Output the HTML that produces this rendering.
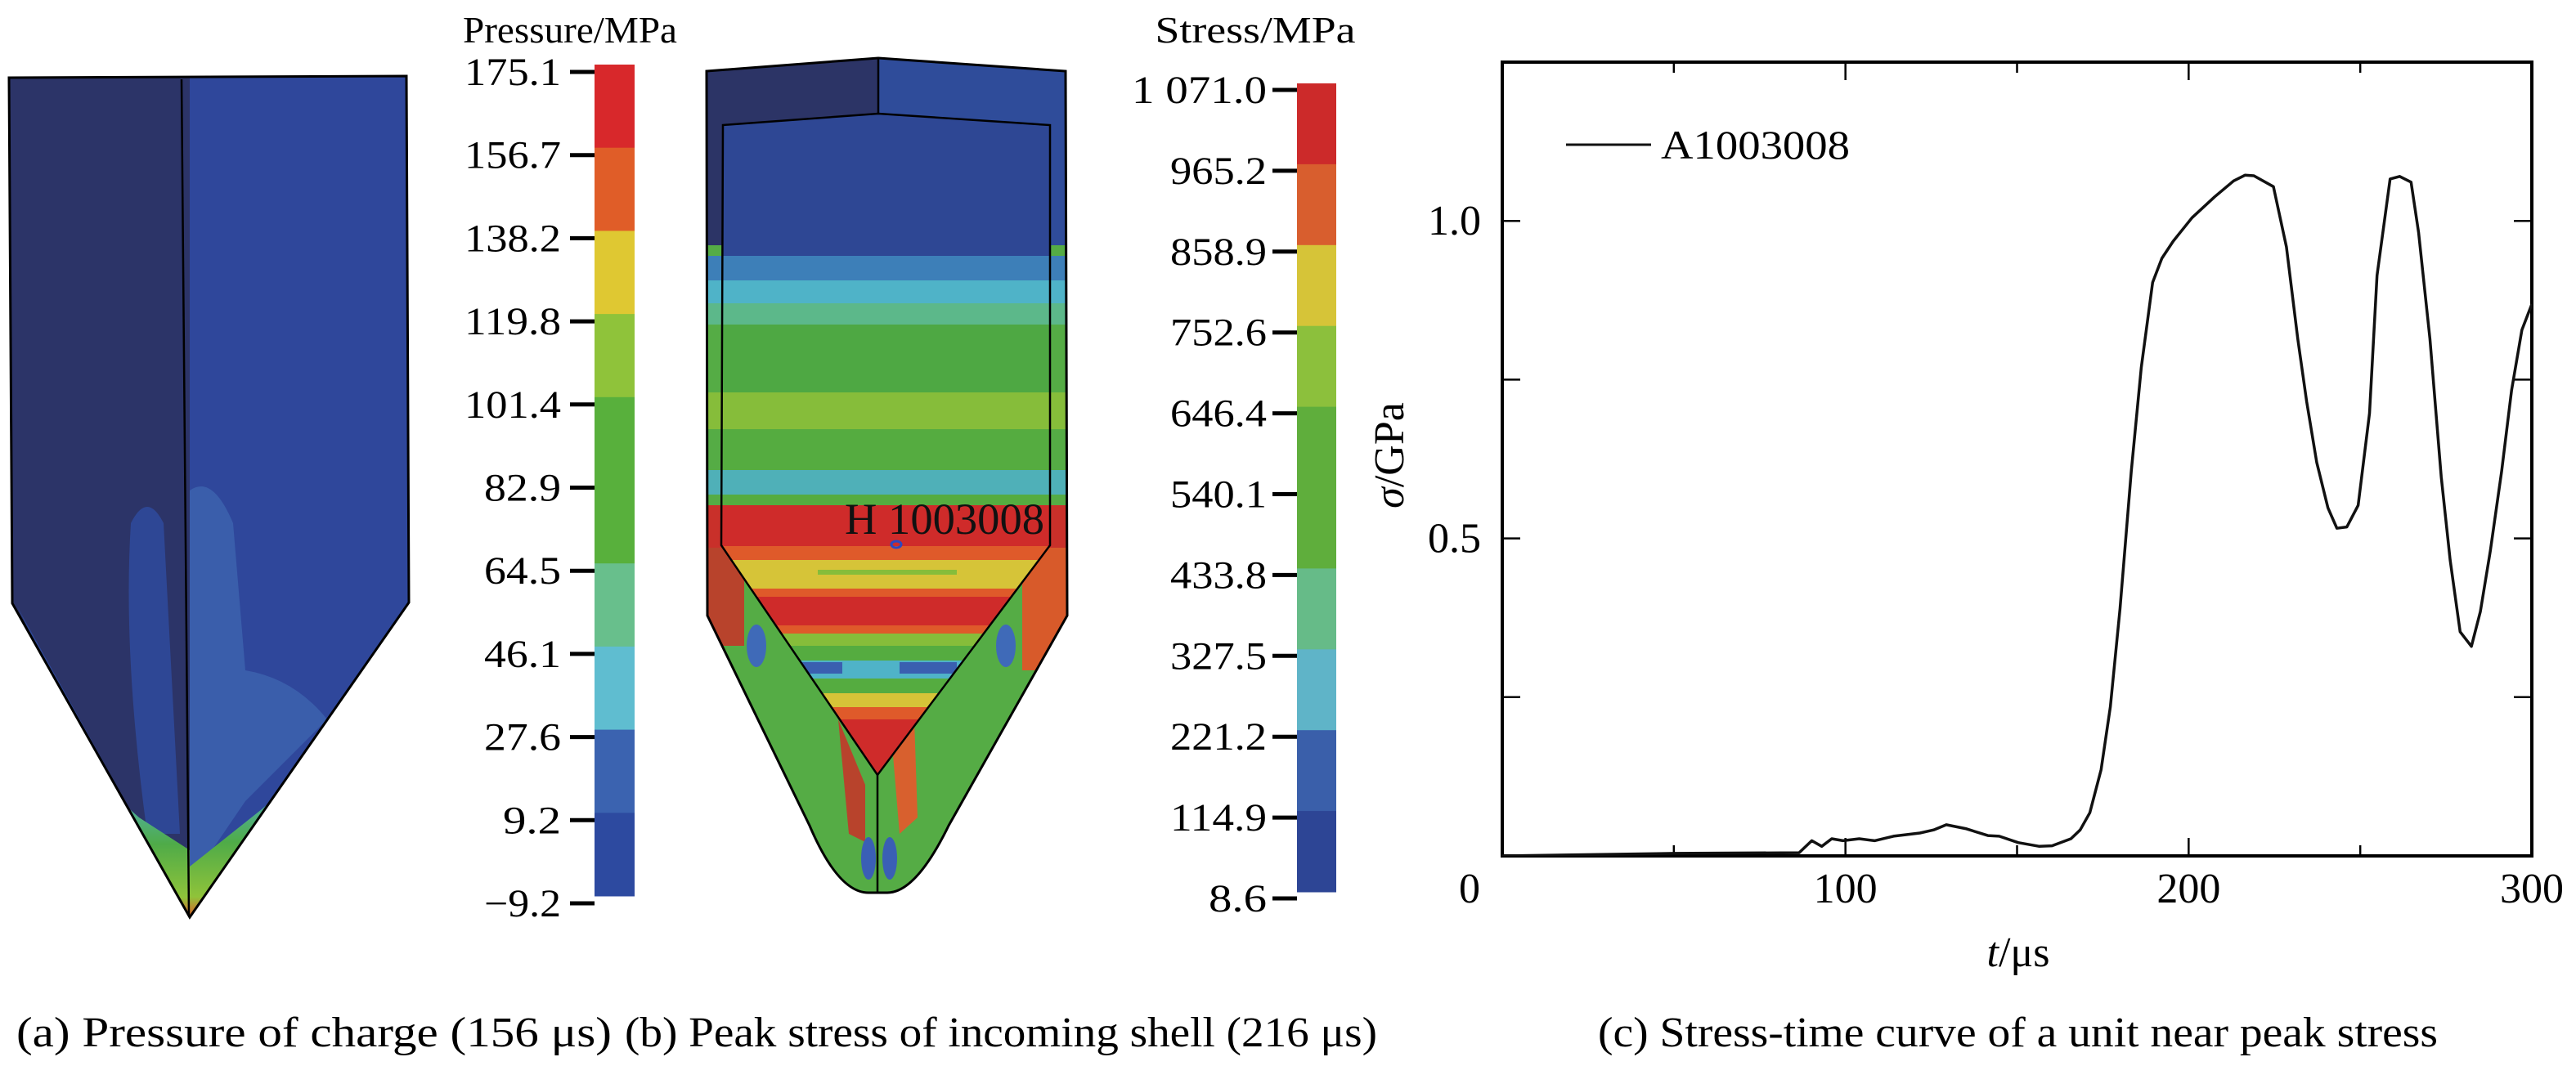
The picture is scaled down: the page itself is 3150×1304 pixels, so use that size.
<!DOCTYPE html>
<html><head><meta charset="utf-8">
<style>
html,body{margin:0;padding:0;background:#fff;}
svg, svg text{font-family:"Liberation Serif","Times New Roman",serif;}
</style></head>
<body>
<svg id="fig" width="3150" height="1299" viewBox="0 0 3150 1299" xmlns="http://www.w3.org/2000/svg" font-family="Liberation Serif, Times New Roman, serif">
<defs>
  <clipPath id="clipA"><path d="M11,95 L497,93 L500,737 L232,1122 L15,738 Z"/></clipPath>
  <clipPath id="clipB"><path d="M864,87 L1074,71 L1303,87 L1305,753 L1160,1010 Q1120,1092 1085,1092 L1062,1092 Q1025,1092 990,1010 L865,753 Z"/></clipPath>
  <clipPath id="clipBin"><path d="M884,153 L1074,139 L1284,153 L1284,667 L1073,948 L882,667 Z"/></clipPath>
  <clipPath id="clipPlot"><rect x="1837" y="76" width="1259" height="971"/></clipPath>
  <linearGradient id="tipL" x1="0" y1="0" x2="0" y2="1">
    <stop offset="0" stop-color="#4fb3c8"/><stop offset="0.45" stop-color="#4fab48"/><stop offset="0.85" stop-color="#8fc33a"/><stop offset="1" stop-color="#e05d28"/>
  </linearGradient>
</defs>

<!-- Panel (a) -->
<g>
  <g clip-path="url(#clipA)">
    <rect x="0" y="80" width="232" height="1050" fill="#2c3468"/>
    <rect x="232" y="80" width="280" height="1050" fill="#2f479b"/>
    <path d="M160,640 Q180,600 200,640 L220,1020 L180,1020 Q150,800 160,640 Z" fill="#2e4795"/>
    <path d="M232,600 Q260,580 285,640 L300,820 Q360,830 400,880 L300,980 L232,1080 Z" fill="#3a5eab"/>
    <path d="M20,740 L232,1122 L210,1122 L110,920 Z" fill="#2e4795"/>
    <path d="M125,960 L232,1122 L232,1040 L170,1000 Z" fill="url(#tipL)"/>
    <path d="M360,955 L232,1122 L232,1060 L320,990 Z" fill="url(#tipL)"/>
  </g>
  <path d="M11,95 L497,93 L500,737 L232,1122 L15,738 Z" fill="none" stroke="#000" stroke-width="3"/>
  <line x1="222" y1="97" x2="231" y2="1120" stroke="#000" stroke-width="2.5"/>
</g>

<!-- Colorbar (a) -->
<g id="cbA"></g>
<text x="697" y="52" font-size="46" text-anchor="middle" textLength="262" lengthAdjust="spacingAndGlyphs">Pressure/MPa</text>

<!-- Panel (b) -->
<g>
  <g clip-path="url(#clipB)">
    <rect x="850" y="60" width="224" height="1040" fill="#2c3466"/>
    <rect x="1074" y="60" width="240" height="1040" fill="#2f4c9a"/>
    <rect x="850" y="300" width="470" height="800" fill="#55ac45"/>
    <rect x="850" y="313" width="470" height="30" fill="#3d7fb8"/>
    <rect x="850" y="343" width="470" height="28" fill="#4fb3c8"/>
    <rect x="850" y="371" width="470" height="26" fill="#5cb88a"/>
    <rect x="850" y="480" width="470" height="45" fill="#86bd3a"/>
    <rect x="850" y="575" width="470" height="30" fill="#4fb0b8"/>
    <rect x="850" y="618" width="470" height="60" fill="#c9302a"/>
    <rect x="850" y="670" width="60" height="120" fill="#b8432c"/>
    <rect x="1250" y="670" width="70" height="150" fill="#d85a2a"/>
    <ellipse cx="925" cy="790" rx="12" ry="26" fill="#3f6ab8"/>
    <ellipse cx="1230" cy="790" rx="12" ry="26" fill="#3f6ab8"/>
    <path d="M1025,880 L1058,960 L1058,1030 L1038,1020 Z" fill="#b8432c"/>
    <path d="M1090,900 L1118,880 L1122,1000 L1100,1020 Z" fill="#d8602e"/>
    <ellipse cx="1062" cy="1050" rx="9" ry="26" fill="#3a5fb5"/>
    <ellipse cx="1088" cy="1050" rx="9" ry="26" fill="#3a5fb5"/>
    <path d="M880,880 L990,1010 L980,1030 L870,870 Z" fill="#3a64b0" opacity="0.5"/>
    <path d="M1270,880 L1160,1010 L1170,1030 L1280,870 Z" fill="#3a64b0" opacity="0.5"/>
  </g>
  <g clip-path="url(#clipBin)">
    <rect x="880" y="130" width="410" height="830" fill="#2e4794"/>
    <rect x="880" y="313" width="410" height="30" fill="#3d7fb8"/>
    <rect x="880" y="343" width="410" height="28" fill="#4fb3c8"/>
    <rect x="880" y="371" width="410" height="26" fill="#5cb88a"/>
    <rect x="880" y="397" width="410" height="83" fill="#4ea843"/>
    <rect x="880" y="480" width="410" height="45" fill="#86bd3a"/>
    <rect x="880" y="525" width="410" height="50" fill="#55ac40"/>
    <rect x="880" y="575" width="410" height="30" fill="#4fb0b8"/>
    <rect x="880" y="605" width="410" height="13" fill="#55ac40"/>
    <rect x="880" y="618" width="410" height="50" fill="#cf2b2a"/>
    <rect x="880" y="668" width="410" height="17" fill="#df5a2a"/>
    <rect x="880" y="685" width="410" height="35" fill="#d6c438"/>
    <rect x="1000" y="697" width="170" height="6" fill="#86bd3a"/>
    <rect x="880" y="720" width="410" height="10" fill="#df5a2a"/>
    <rect x="880" y="730" width="410" height="35" fill="#cf2b2a"/>
    <rect x="880" y="765" width="410" height="10" fill="#df5a2a"/>
    <rect x="880" y="775" width="410" height="15" fill="#86bd3a"/>
    <rect x="880" y="790" width="410" height="18" fill="#55ac40"/>
    <rect x="880" y="808" width="410" height="22" fill="#4fb3c8"/>
    <rect x="960" y="810" width="70" height="14" fill="#3a5fb0"/>
    <rect x="1100" y="810" width="70" height="14" fill="#3a5fb0"/>
    <rect x="880" y="830" width="410" height="18" fill="#55ac40"/>
    <rect x="880" y="848" width="410" height="17" fill="#d6c438"/>
    <rect x="880" y="865" width="410" height="15" fill="#df5a2a"/>
    <rect x="880" y="880" width="410" height="80" fill="#cf2b2a"/>
  </g>
  <path d="M864,87 L1074,71 L1303,87 L1305,753 L1160,1010 Q1120,1092 1085,1092 L1062,1092 Q1025,1092 990,1010 L865,753 Z" fill="none" stroke="#000" stroke-width="3"/>
  <path d="M884,153 L1074,139 L1284,153 L1284,667 L1073,948 L882,667 Z" fill="none" stroke="#000" stroke-width="2.5"/>
  <line x1="1074" y1="71" x2="1074" y2="139" stroke="#000" stroke-width="2.5"/>
  <line x1="1073" y1="948" x2="1073" y2="1092" stroke="#000" stroke-width="2.5"/>
  <ellipse cx="1096" cy="666" rx="6" ry="4" fill="none" stroke="#2c48c0" stroke-width="3"/>
  <text x="1033" y="653" font-size="54" textLength="244" lengthAdjust="spacingAndGlyphs" fill="#111">H 1003008</text>
</g>

<!-- Colorbar (b) -->
<g id="cbB"></g>
<text x="1535" y="52" font-size="46" text-anchor="middle" textLength="245" lengthAdjust="spacingAndGlyphs">Stress/MPa</text>

<!-- Chart (c) -->
<g id="chart"></g>
<text transform="translate(1716,557) rotate(-90)" font-size="52" text-anchor="middle"><tspan font-style="italic">σ</tspan>/GPa</text>
<text x="2468" y="1182" font-size="52" text-anchor="middle"><tspan font-style="italic">t</tspan>/μs</text>

<!-- Captions -->
<text x="20" y="1280" font-size="52" textLength="728" lengthAdjust="spacingAndGlyphs">(a)  Pressure of charge (156 μs)</text>
<text x="764" y="1280" font-size="52" textLength="920" lengthAdjust="spacingAndGlyphs">(b)  Peak stress of incoming shell (216 μs)</text>
<text x="1954" y="1280" font-size="52" textLength="1027" lengthAdjust="spacingAndGlyphs">(c) Stress-time curve of a unit near peak stress</text>
</svg>

<script>
const times = [0,50,86.5,90.2,93.1,96,99.3,104,108.5,114,121.7,125.7,129.4,135,141.5,144.8,150.3,156.5,160.2,165.7,168.4,171.2,174.5,177.2,180,183.3,186.2,189.5,192.2,195.5,201,207.6,213.1,216.4,219,224.7,228.5,231.8,234.4,237.3,240.6,243.2,246.1,249.4,252.7,254.9,258.7,261.5,264.8,267,270.3,273.6,276.2,279.1,282.4,285,287.9,291.2,294.1,297.1,300];
const stress = [0,0.004,0.005,0.024,0.015,0.027,0.024,0.027,0.024,0.031,0.036,0.041,0.049,0.043,0.032,0.031,0.021,0.015,0.016,0.027,0.041,0.068,0.136,0.235,0.389,0.606,0.769,0.903,0.941,0.968,1.005,1.038,1.063,1.072,1.071,1.054,0.959,0.814,0.715,0.62,0.548,0.516,0.518,0.552,0.697,0.914,1.066,1.07,1.061,0.982,0.814,0.597,0.466,0.353,0.33,0.385,0.48,0.606,0.733,0.828,0.869];
const xMajorTicks = [0,100,200,300];
const xMinorTicks = [50,150,250];
const yMajorTicks = [0.5,1.0];
const yMinorTicks = [0.25,0.75];
const yTickLabels = ["0.5","1.0"];
const pressureLabels = ["175.1","156.7","138.2","119.8","101.4","82.9","64.5","46.1","27.6","9.2","\u22129.2"];
const stressLabels = ["1 071.0","965.2","858.9","752.6","646.4","540.1","433.8","327.5","221.2","114.9","8.6"];
const pressureColors = ["#d8282b","#e05d28","#dfc832","#8fc33a","#58b03c","#58b03c","#68bf8c","#5fbdd0","#3b63b0","#2d4aa0"];
const stressColors = ["#cc2a2a","#d85e2e","#d6c438","#8cc03c","#5fae3c","#5fae3c","#66bb88","#5fb4c8","#3a5faa","#2d4595"];

const NS = "http://www.w3.org/2000/svg";
function mk(tag, attrs, parent){ const e=document.createElementNS(NS,tag); for(const k in attrs) e.setAttribute(k,attrs[k]); parent.appendChild(e); return e; }

function colorbar(gId, x, top, bottom, w, labels, colors, labelRight, tickOff){
  const g=document.getElementById(gId);
  const n=colors.length, h=(bottom-top)/n;
  colors.forEach((c,i)=>{
    const r=mk('rect',{x:x,y:top+i*h,width:w,height:h+0.5,fill:c},g);
    
    
  });
  labels.forEach((l,i)=>{
    const y=top+tickOff+i*h;
    const t=mk('line',{x1:x-30,y1:y,x2:x,y2:y,stroke:'#000','stroke-width':5},g);
    
    
    const tx=mk('text',{x:labelRight,y:y+16,'font-size':48,'text-anchor':'end',textLength:(l.length*23.5).toFixed(0),lengthAdjust:'spacingAndGlyphs'},g);
    tx.textContent=l;
    
    
  });
}
colorbar('cbA',727,79,1096,49,pressureLabels,pressureColors,686,9);
colorbar('cbB',1586,102,1091,48,stressLabels,stressColors,1549,8);

const L=1837,R=3096,T=76,B=1047,XMAX=300,YMAX=1.25;
const sx=v=>L+(v/XMAX)*(R-L);
const sy=v=>B-(v/YMAX)*(B-T);
const g=document.getElementById('chart');
const frame=mk('rect',{x:L,y:T,width:R-L,height:B-T,fill:'none',stroke:'#000','stroke-width':4},g);


function tickX(v,len){
  mk('line',{x1:sx(v),y1:B,x2:sx(v),y2:B-len,stroke:'#000','stroke-width':2.5},g);
  mk('line',{x1:sx(v),y1:T,x2:sx(v),y2:T+len,stroke:'#000','stroke-width':2.5},g);
}
function tickY(v,len){
  mk('line',{x1:L,y1:sy(v),x2:L+len,y2:sy(v),stroke:'#000','stroke-width':2.5},g);
  mk('line',{x1:R,y1:sy(v),x2:R-len,y2:sy(v),stroke:'#000','stroke-width':2.5},g);
}
xMajorTicks.forEach(v=>tickX(v,22));
xMinorTicks.forEach(v=>tickX(v,13));
yMajorTicks.forEach(v=>tickY(v,22));
yMinorTicks.forEach(v=>tickY(v,22));
xMajorTicks.forEach(v=>{
  const t=mk('text',{x:v===0?sx(v)-40:sx(v),y:1104,'font-size':52,'text-anchor':'middle'},g);
  t.textContent=String(v);
  
  
});
yMajorTicks.forEach((v,i)=>{
  const t=mk('text',{x:1811,y:sy(v)+17,'font-size':52,'text-anchor':'end'},g);
  t.textContent=yTickLabels[i];
  
  
});
let d='';
times.forEach((t,i)=>{ d+=(i?'L':'M')+sx(t).toFixed(1)+','+sy(stress[i]).toFixed(1); });
const line=mk('path',{d:d,fill:'none',stroke:'#111','stroke-width':3.5,'stroke-linejoin':'round','clip-path':'url(#clipPlot)'},g);


const ll=mk('line',{x1:1915,y1:177,x2:2019,y2:177,stroke:'#111','stroke-width':3},g);


const lt=mk('text',{x:2031,y:194,'font-size':50,textLength:231,lengthAdjust:'spacingAndGlyphs'},g);
lt.textContent='A1003008';


</script>
</body></html>
